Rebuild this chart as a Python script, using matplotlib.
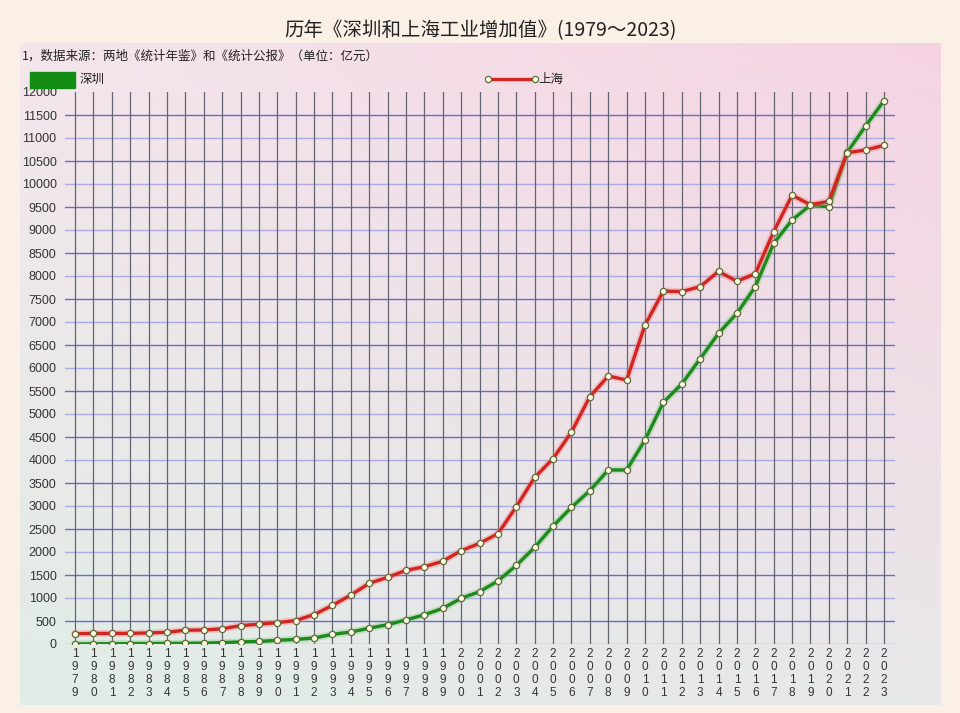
import numpy as np
import matplotlib.pyplot as plt
from matplotlib.colors import to_rgb
from matplotlib.lines import Line2D
from matplotlib.patches import Rectangle

plt.rcParams['font.family'] = ['Noto Sans CJK SC', 'DejaVu Sans']

years = list(range(1979, 2024))

# 上海 industrial added value (亿元)
shanghai = [224, 230, 230, 232, 240, 255, 300, 305, 330, 400,
            430, 465, 510, 640, 840, 1065, 1320, 1450, 1600, 1680,
            1800, 2029, 2188, 2398, 2985, 3623, 4029, 4609, 5377, 5826,
            5739, 6935, 7670, 7662, 7768, 8100, 7885, 8050, 8964, 9754,
            9551, 9623, 10681, 10739, 10841]

# 深圳 industrial added value (亿元)
shenzhen = [2, 4, 6, 8, 10, 13, 15, 18, 30, 45,
            55, 80, 100, 130, 210, 260, 345, 420, 525, 635,
            775, 993, 1138, 1370, 1710, 2101, 2565, 2971, 3333, 3783,
            3783, 4435, 5254, 5652, 6200, 6754, 7188, 7768, 8710, 9217,
            9543, 9507, 10690, 11261, 11811]

yticks = list(range(0, 12001, 500))

TITLE = "历年《深圳和上海工业增加值》(1979～2023)"
NOTE = "1，数据来源：两地《统计年鉴》和《统计公报》（单位：亿元）"

W, H = 960, 713
fig = plt.figure(figsize=(W / 100, H / 100), dpi=100, facecolor="#FAF0E6")

# gradient panel behind the chart
bg = fig.add_axes([20 / W, 1 - 705 / H, 920 / W, 662 / H], zorder=-5)
tl, tr = np.array(to_rgb("#F4E6EC")), np.array(to_rgb("#F6D3E3"))
bl, br = np.array(to_rgb("#E1EDE6")), np.array(to_rgb("#E8E8EA"))
v = np.linspace(0, 1, 200)[:, None, None]
u = np.linspace(0, 1, 200)[None, :, None]
img = (1 - v) * ((1 - u) * tl + u * tr) + v * ((1 - u) * bl + u * br)
bg.imshow(img, aspect="auto", extent=[0, 1, 0, 1])
bg.axis("off")

ax = fig.add_axes([65 / W, 1 - 644 / H, 830 / W, 552 / H])
ax.set_facecolor("none")
ax.set_xlim(1978.45, 2023.6)
ax.set_ylim(0, 12000)
for s in ax.spines.values():
    s.set_visible(False)

# grid
for yv in yticks[:-1]:
    c = "#6A6AD0" if (yv // 500) % 2 else "#ABABE0"
    ax.axhline(yv, color=c, lw=1.0, zorder=1)
for yr in years:
    ax.axvline(yr, color="#656572", lw=0.9, zorder=1)

ax.set_yticks(yticks)
ax.set_yticklabels([str(t) for t in yticks], family=["Liberation Sans", "DejaVu Sans"],
                   fontsize=9, color="#333333")
ax.set_xticks(years)
ax.set_xticklabels(["\n".join(str(y)) for y in years], family=["Liberation Sans", "DejaVu Sans"],
                   fontsize=8.5, color="#333333", linespacing=1.1)
ax.tick_params(axis="y", length=0, pad=6)
ax.tick_params(axis="x", length=0, pad=3)

mk = dict(marker="o", markersize=4.5, markerfacecolor="#FFFBE6",
          markeredgecolor="#5E6B3A", markeredgewidth=0.9)

ax.plot(years, shenzhen, color="#7CC47C", lw=5, alpha=0.35, zorder=3)
ax.plot(years, shenzhen, color="#1C8A1C", lw=2.4, zorder=4, **mk)
ax.plot(years, shanghai, color="#F08080", lw=5, alpha=0.35, zorder=5)
ax.plot(years, shanghai, color="#D42420", lw=2.4, zorder=6, **mk)

fig.text(0.5, 1 - 31 / H, TITLE, ha="center", va="center", fontsize=14, color="#222222")
fig.text(22 / W, 1 - 56 / H, NOTE, ha="left", va="center", fontsize=9, color="#222222")

# legend
fig.patches.append(Rectangle((30 / W, 1 - 88 / H), 45 / W, 16 / H,
                             transform=fig.transFigure, color="#128C12"))
fig.text(80 / W, 1 - 79 / H, "深圳", ha="left", va="center", fontsize=9, color="#222222")
fig.lines.append(Line2D([488 / W, 535 / W], [1 - 79 / H, 1 - 79 / H],
                        transform=fig.transFigure, color="#D42420", lw=2.4,
                        markevery=[0, 1], **mk))
fig.text(538 / W, 1 - 79 / H, "上海", ha="left", va="center", fontsize=9, color="#222222")

fig.savefig("out.png", dpi=100, facecolor=fig.get_facecolor())
